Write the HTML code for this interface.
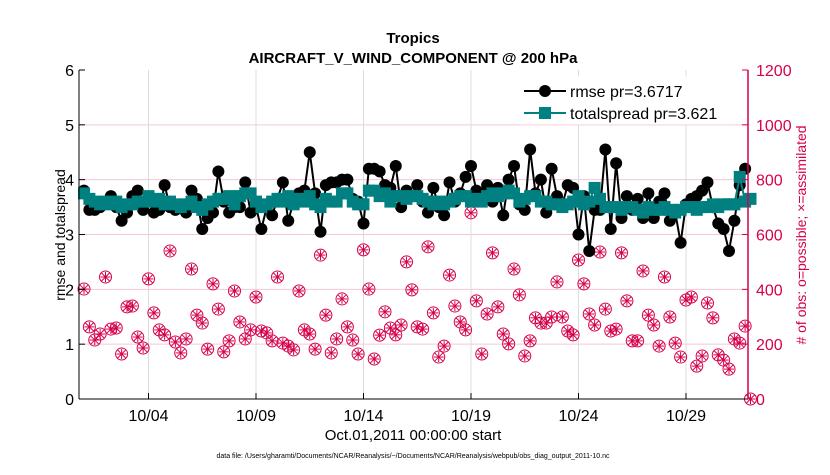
<!DOCTYPE html>
<html><head><meta charset="utf-8"><style>
body{margin:0;background:#fff;}
svg text{font-family:"Liberation Sans",sans-serif;}
</style></head><body>
<svg id="chart" width="830" height="470" xmlns="http://www.w3.org/2000/svg">
<rect width="830" height="470" fill="#fff"/>
<text x="413" y="43" text-anchor="middle" font-size="15" font-weight="bold">Tropics</text>
<text x="413" y="63" text-anchor="middle" font-size="15" font-weight="bold">AIRCRAFT_V_WIND_COMPONENT @ 200 hPa</text>
<g id="grid"></g>
<g id="series"></g>
<g id="axes"></g>
<text transform="translate(65,235) rotate(-90)" text-anchor="middle" font-size="14">rmse and totalspread</text>
<text transform="translate(806,235) rotate(-90)" text-anchor="middle" font-size="14" fill="#d6004c">#  of obs: o=possible; ×=assimilated</text>
<text x="413" y="440" text-anchor="middle" font-size="15">Oct.01,2011 00:00:00 start</text>
<text x="413" y="458" text-anchor="middle" font-size="7">data file: /Users/gharamti/Documents/NCAR/Reanalysis/~/Documents/NCAR/Reanalysis/webpub/obs_diag_output_2011-10.nc</text>
<g>
<rect x="519" y="77" width="216" height="47" fill="#fff" stroke="#fff"/>
<line x1="524" y1="91" x2="566" y2="91" stroke="#000" stroke-width="2"/>
<circle cx="545" cy="91" r="6" fill="#000"/>
<text x="570" y="97" font-size="16">rmse pr=3.6717</text>
<line x1="524" y1="113" x2="566" y2="113" stroke="#008080" stroke-width="2"/>
<rect x="539" y="107" width="12" height="12" fill="#008080"/>
<text x="570" y="119" font-size="16">totalspread pr=3.621</text>
</g>
</svg>
<script>
const rmse=[3.8,3.45,3.45,3.5,3.6,3.7,3.5,3.25,3.4,3.7,3.8,3.45,3.6,3.4,3.45,3.9,3.5,3.45,3.5,3.4,3.8,3.65,3.1,3.3,3.4,4.15,3.6,3.4,3.5,3.5,3.95,3.4,3.5,3.1,3.5,3.35,3.65,3.95,3.25,3.6,3.75,3.8,4.5,3.75,3.05,3.9,3.95,3.95,4.0,4.0,3.65,3.6,3.2,4.2,4.2,4.15,3.9,3.85,4.25,3.5,3.8,3.7,3.9,
3.6,3.4,3.85,3.5,3.35,3.95,3.6,3.75,4.05,4.25,3.8,3.75,3.9,3.6,3.85,3.35,4.0,4.25,3.55,3.45,4.55,3.75,4.0,3.4,4.2,3.7,3.55,3.9,3.85,3.0,3.7,2.7,3.45,3.45,4.55,3.1,4.3,3.3,3.7,3.45,3.65,3.3,3.75,3.3,3.6,3.75,3.25,3.4,2.85,3.55,3.65,3.7,3.8,3.95,3.5,3.2,3.1,2.7,3.25,3.9,4.2];
const spread=[3.75,3.65,3.6,3.55,3.6,3.55,3.6,3.5,3.55,3.55,3.6,3.6,3.7,3.6,3.65,3.55,3.6,3.55,3.5,3.55,3.6,3.5,3.45,3.55,3.6,3.65,3.65,3.7,3.55,3.7,3.75,3.75,3.6,3.5,3.55,3.6,3.65,3.6,3.7,3.55,3.65,3.6,3.7,3.55,3.5,3.65,3.6,3.6,3.75,3.75,3.6,3.55,3.55,3.8,3.8,3.7,3.75,3.6,3.7,3.7,3.65,3.7,3.7,
3.65,3.6,3.55,3.6,3.55,3.6,3.65,3.7,3.7,3.6,3.65,3.6,3.7,3.75,3.7,3.75,3.8,3.75,3.6,3.65,3.7,3.7,3.6,3.6,3.55,3.55,3.5,3.55,3.6,3.7,3.55,3.6,3.85,3.65,3.5,3.5,3.5,3.45,3.5,3.5,3.45,3.4,3.5,3.45,3.45,3.5,3.45,3.4,3.45,3.5,3.5,3.45,3.5,3.5,3.55,3.5,3.55,3.55,3.55,4.05,3.6,3.65];
const nobs=[401,263,215,237,445,255,259,164,336,339,226,186,438,314,252,234,540,208,168,219,474,306,277,182,420,328,172,212,394,281,219,252,372,248,241,212,445,204,193,179,394,252,237,182,525,306,168,219,365,263,215,164,544,401,146,233,318,259,234,270,500,398,263,
255,555,314,153,193,452,339,281,252,679,358,164,310,533,336,237,201,474,380,157,212,296,277,277,299,427,299,248,234,507,420,310,270,536,328,248,255,533,358,212,212,467,306,270,193,445,299,204,153,361,372,120,157,350,296,161,142,109,219,204,266,0];
const leftTicks=[0,1,2,3,4,5,6];
const rightTicks=[0,200,400,600,800,1000,1200];
const dateTicks=["10/04","10/09","10/14","10/19","10/24","10/29"];
const dateTickDays=[3,8,13,18,23,28];

const L=79,R=748,T=70,B=399,DAY=21.5,X0=84;
const xs=d=>X0+d*DAY;
const yl=v=>B-(B-T)*v/6;
const yr=v=>B-(B-T)*v/1200;
const NS="http://www.w3.org/2000/svg";
function mk(tag,attrs,parent){const e=document.createElementNS(NS,tag);for(const k in attrs)e.setAttribute(k,attrs[k]);parent.appendChild(e);return e;}
const grid=document.getElementById('grid'),axes=document.getElementById('axes'),ser=document.getElementById('series');
leftTicks.forEach((v,i)=>{
  if(v>0&&v<6){const g=mk('line',{x1:L,x2:R,y1:yl(v),y2:yl(v),stroke:'#f5c6d6','stroke-width':1},grid);
  
  }
  const t=mk('text',{x:L-5,y:yl(v)+6,'text-anchor':'end','font-size':16},axes);t.textContent=v;
  
  
  mk('line',{x1:L,x2:L+6,y1:yl(v),y2:yl(v),stroke:'#000'},axes);
});
rightTicks.forEach(v=>{
  const t=mk('text',{x:R+8,y:yr(v)+6,'font-size':16,fill:'#d6004c'},axes);t.textContent=v;
  
  
  mk('line',{x1:R-6,x2:R,y1:yr(v),y2:yr(v),stroke:'#d6004c'},axes);
});
dateTicks.forEach((s,i)=>{
  const x=xs(dateTickDays[i]);
  const g=mk('line',{x1:x,x2:x,y1:T,y2:B,stroke:'#dcdcdc'},grid);
  
  
  mk('line',{x1:x,x2:x,y1:B,y2:B-6,stroke:'#000'},axes);
  const t=mk('text',{x:x,y:B+22,'text-anchor':'middle','font-size':16},axes);t.textContent=s;
  
  
});
mk('line',{x1:L,x2:L,y1:T,y2:B,stroke:'#000'},axes);
mk('line',{x1:L,x2:R,y1:B,y2:B,stroke:'#000'},axes);
mk('line',{x1:R,x2:R,y1:T,y2:B,stroke:'#d6004c','stroke-width':1.5},axes);
nobs.forEach((v,i)=>{
  const x=xs(i/4),y=yr(v);
  const g=mk('g',{stroke:'#d6004c',fill:'none','stroke-width':1},ser);
  
  
  mk('circle',{cx:x,cy:y,r:6},g);
  mk('line',{x1:x-5,x2:x+5,y1:y,y2:y},g);
  mk('line',{x1:x,x2:x,y1:y-5,y2:y+5},g);
  mk('line',{x1:x-4,x2:x+4,y1:y-4,y2:y+4},g);
  mk('line',{x1:x-4,x2:x+4,y1:y+4,y2:y-4},g);
});
function line(arr,color,name){
  const p=mk('polyline',{points:arr.map((v,i)=>xs(i/4)+','+yl(v)).join(' '),fill:'none',stroke:color,'stroke-width':2},ser);
  
  
}
line(rmse,'#000','rmse-line');
rmse.forEach((v,i)=>{const c=mk('circle',{cx:xs(i/4),cy:yl(v),r:6,fill:'#000'},ser);
  
  });
line(spread,'#008080','totalspread-line');
spread.forEach((v,i)=>{const c=mk('rect',{x:xs(i/4)-6,y:yl(v)-6,width:12,height:12,fill:'#008080'},ser);
  
  });
</script>
</body></html>
